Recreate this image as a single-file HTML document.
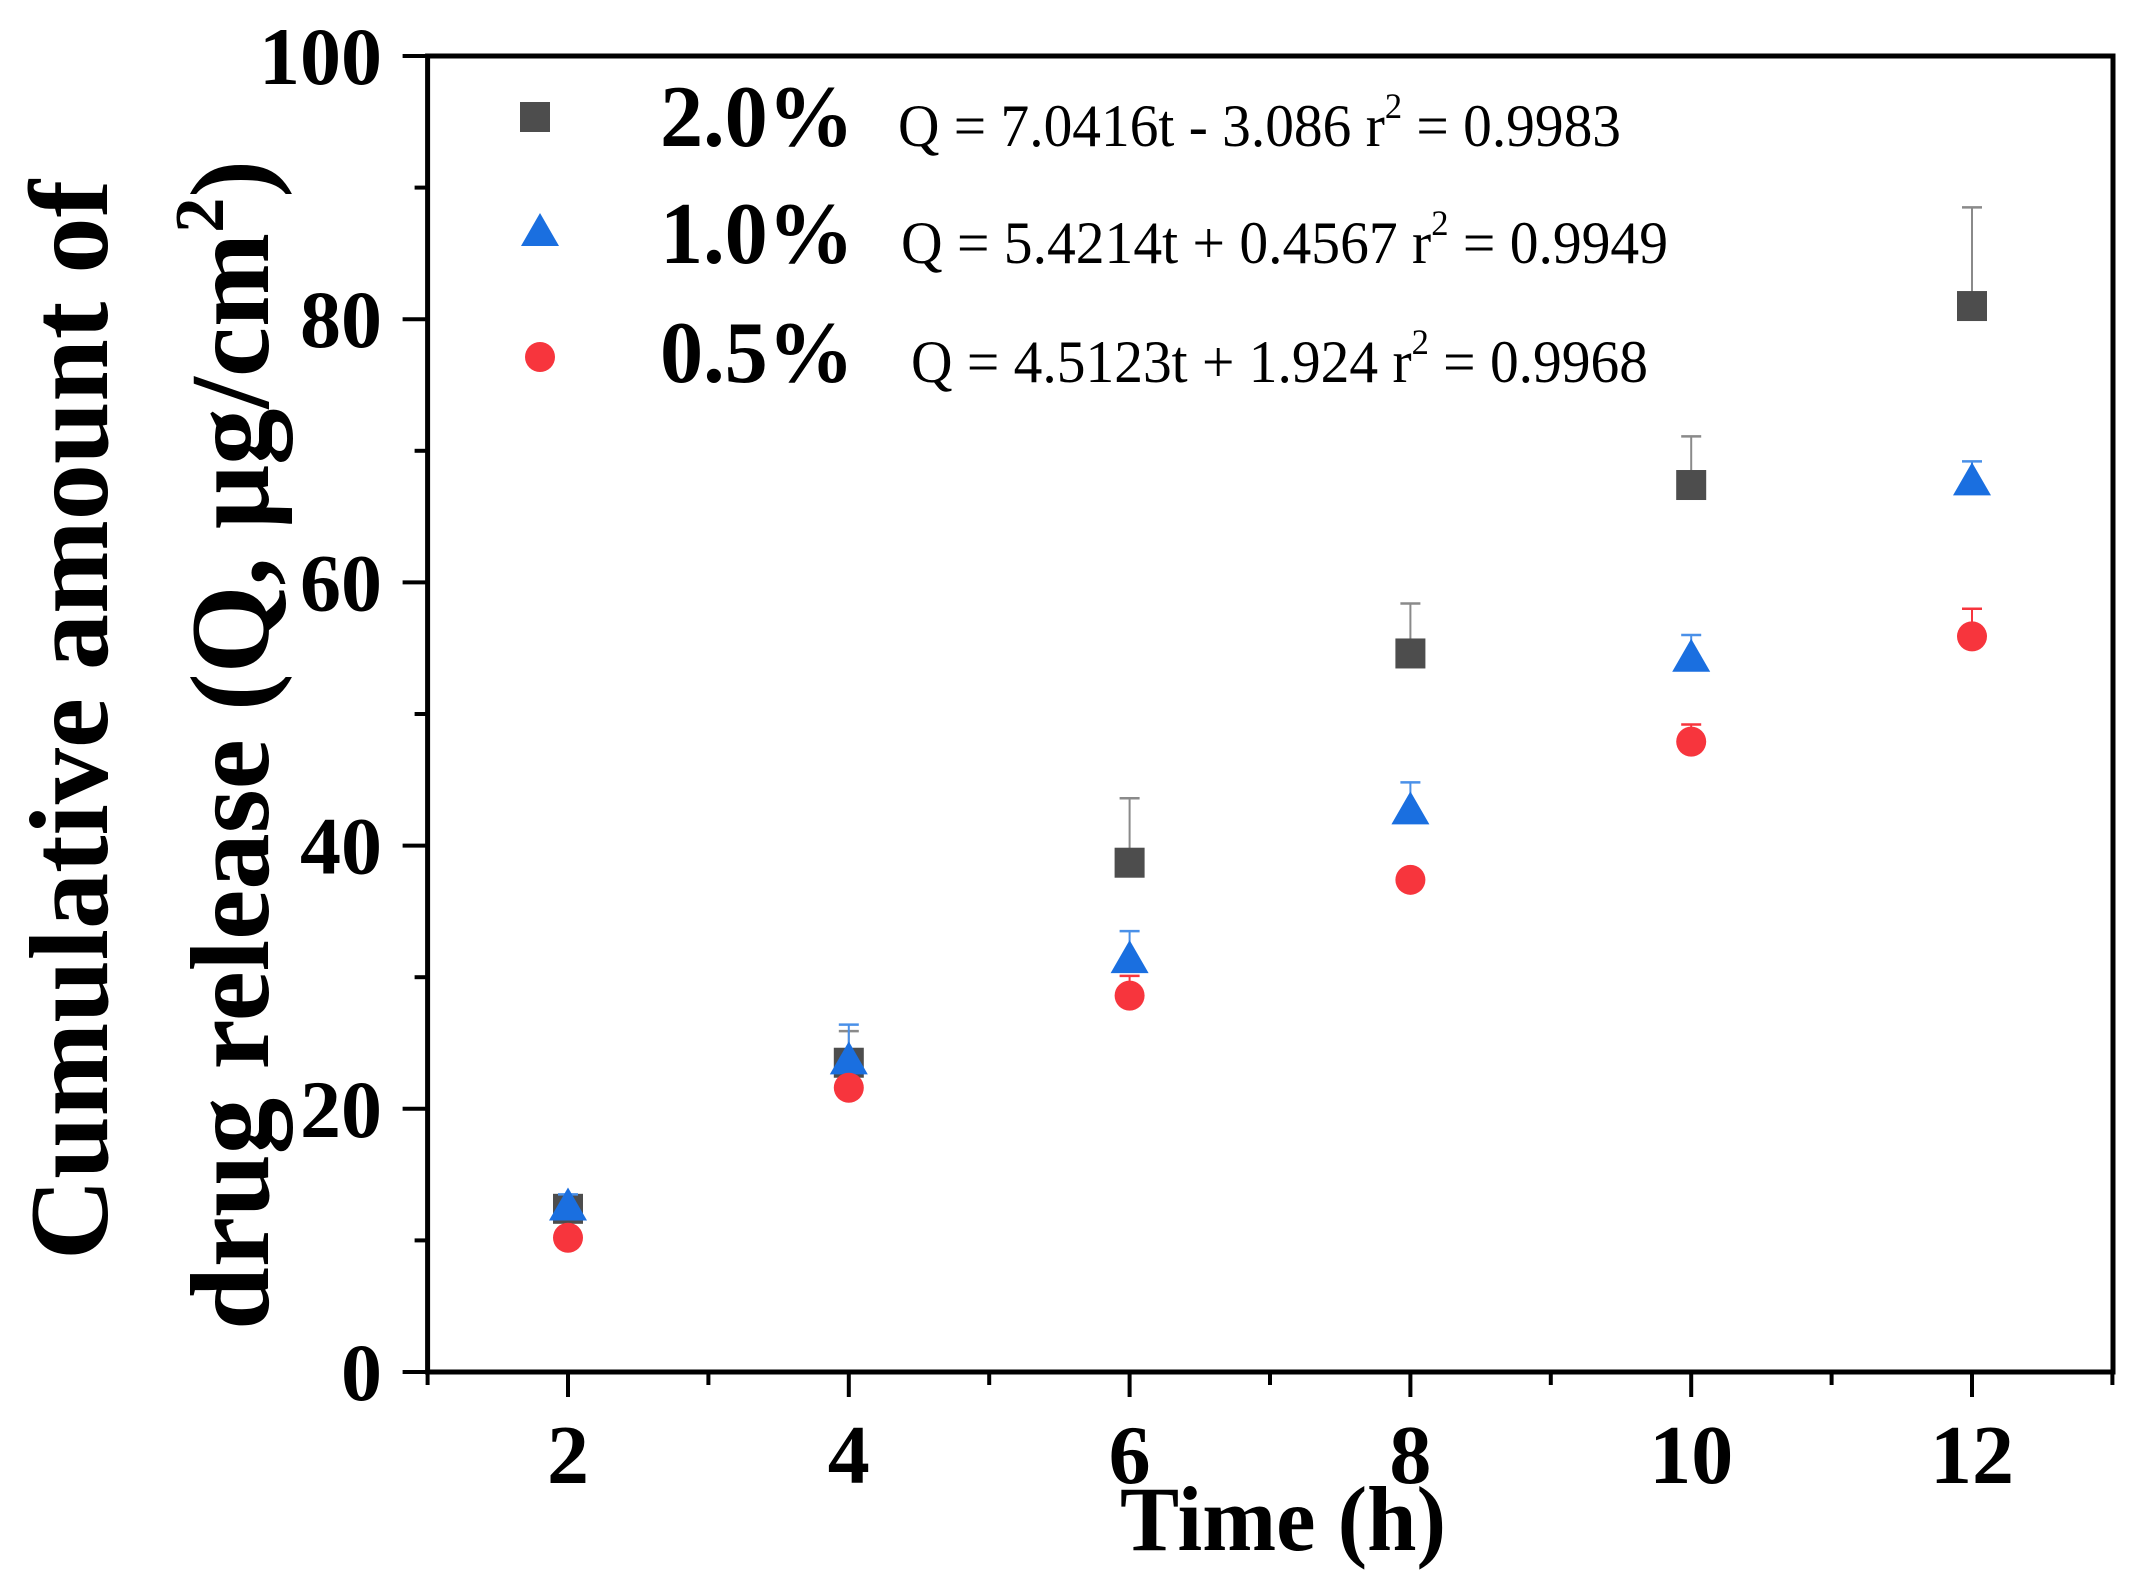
<!DOCTYPE html>
<html><head><meta charset="utf-8"><style>
html,body{margin:0;padding:0;background:#fff;}
svg{display:block;}
text{font-family:"Liberation Serif","Times New Roman",serif;fill:#000;}
</style></head><body>
<svg id="chart" width="2155" height="1586" viewBox="0 0 2155 1586" xmlns="http://www.w3.org/2000/svg">
<g id="plot"></g>
<g id="axes"></g>
<g id="legend">
  <rect x="520" y="102" width="30" height="30" fill="#4d4d4d"/>
  <polygon points="540,213 559,246 521,246" fill="#1a6fe0"/>
  <circle cx="540" cy="357" r="15" fill="#f7353d"/>
  <text x="660" y="146" font-size="88" font-weight="bold" textLength="194" lengthAdjust="spacingAndGlyphs">2.0%</text>
  <text x="660" y="263" font-size="88" font-weight="bold" textLength="194" lengthAdjust="spacingAndGlyphs">1.0%</text>
  <text x="660" y="382" font-size="88" font-weight="bold" textLength="194" lengthAdjust="spacingAndGlyphs">0.5%</text>
  <text x="898" y="146" font-size="60" textLength="723" lengthAdjust="spacingAndGlyphs">Q = 7.0416t - 3.086 r<tspan font-size="36" dy="-28">2</tspan><tspan dy="28"> = 0.9983</tspan></text>
  <text x="901" y="263" font-size="60" textLength="767" lengthAdjust="spacingAndGlyphs">Q = 5.4214t + 0.4567 r<tspan font-size="36" dy="-28">2</tspan><tspan dy="28"> = 0.9949</tspan></text>
  <text x="911" y="382" font-size="60" textLength="737" lengthAdjust="spacingAndGlyphs">Q = 4.5123t + 1.924 r<tspan font-size="36" dy="-28">2</tspan><tspan dy="28"> = 0.9968</tspan></text>
</g>
<text transform="translate(107,720) rotate(-90)" text-anchor="middle" font-size="112" font-weight="bold" textLength="1080" lengthAdjust="spacingAndGlyphs">Cumulative amount of</text>
<text transform="translate(268,745) rotate(-90)" text-anchor="middle" font-size="112" font-weight="bold" textLength="1170" lengthAdjust="spacingAndGlyphs">drug release (Q, μg/cm<tspan font-size="70" dy="-45">2</tspan><tspan dy="45">)</tspan></text>
<text x="1283" y="1550" text-anchor="middle" font-size="92" font-weight="bold" textLength="326" lengthAdjust="spacingAndGlyphs">Time (h)</text>
</svg>
<script>
const categories=[2,4,6,8,10,12];
const s20=[12.4,23.5,38.7,54.6,67.4,81.0];
const s20err=[1.0,2.4,4.9,3.8,3.7,7.5];
const s10=[12.5,23.6,31.3,42.6,54.2,67.6];
const s10err=[1.0,2.8,2.2,2.2,1.8,1.6];
const s05=[10.2,21.6,28.6,37.4,47.9,55.9];
const s05err=[0.6,0.5,1.5,0.5,1.3,2.1];
const xTicks=[2,4,6,8,10,12];
const yTicks=[0,20,40,60,80,100];

const NS="http://www.w3.org/2000/svg";
const X0=427.6,XS=140.4,Y0=1372,YS=13.16;
const xs=v=>X0+(v-1)*XS;
const ys=v=>Y0-v*YS;
function mk(tag,attrs,parent){const e=document.createElementNS(NS,tag);for(const k in attrs)e.setAttribute(k,attrs[k]);parent.appendChild(e);return e;}
const plot=document.getElementById('plot'),axes=document.getElementById('axes');

let fr=mk('rect',{x:X0,y:56,width:2113-X0,height:Y0-56,fill:'none',stroke:'#000','stroke-width':5},axes);


for(let v=1;v<=13;v++){
  const major=xTicks.includes(v);
  let t=mk('line',{x1:xs(v),x2:xs(v),y1:Y0,y2:Y0+(major?25:13),stroke:'#000','stroke-width':4},axes);
  
  
}
xTicks.forEach(v=>{
  let t=mk('text',{x:xs(v),y:1483,'text-anchor':'middle','font-size':84,'font-weight':'bold'},axes);
  t.textContent=v;
  
  
});
for(let v=0;v<=100;v+=10){
  const major=yTicks.includes(v);
  let t=mk('line',{x1:X0,x2:X0-(major?25:13),y1:ys(v),y2:ys(v),stroke:'#000','stroke-width':4},axes);
  
  
}
yTicks.forEach(v=>{
  let t=mk('text',{x:382,y:ys(v)+28,'text-anchor':'end','font-size':82,'font-weight':'bold'},axes);
  t.textContent=v;
  
  
});

function errbar(x,v,e,col){
  const g=mk('g',{},plot);
  
  
  mk('line',{x1:x,x2:x,y1:ys(v),y2:ys(v+e),stroke:col,'stroke-width':2},g);
  mk('line',{x1:x-10,x2:x+10,y1:ys(v+e),y2:ys(v+e),stroke:col,'stroke-width':2.5},g);
}
categories.forEach((c,i)=>{
  const x=xs(c);
  errbar(x,s20[i],s20err[i],'#8a8a8a');
  let r=mk('rect',{x:x-15,y:ys(s20[i])-15,width:30,height:30,fill:'#4d4d4d'},plot);
  
  
});
categories.forEach((c,i)=>{
  const x=xs(c);
  errbar(x,s10[i],s10err[i],'#4a90e8');
  const y=ys(s10[i]);
  let p=mk('polygon',{points:`${x},${y-20} ${x+19},${y+13} ${x-19},${y+13}`,fill:'#1a6fe0'},plot);
  
  
});
categories.forEach((c,i)=>{
  const x=xs(c);
  errbar(x,s05[i],s05err[i],'#f7353d');
  let p=mk('circle',{cx:x,cy:ys(s05[i]),r:15,fill:'#f7353d'},plot);
  
  
});
</script>
</body></html>
